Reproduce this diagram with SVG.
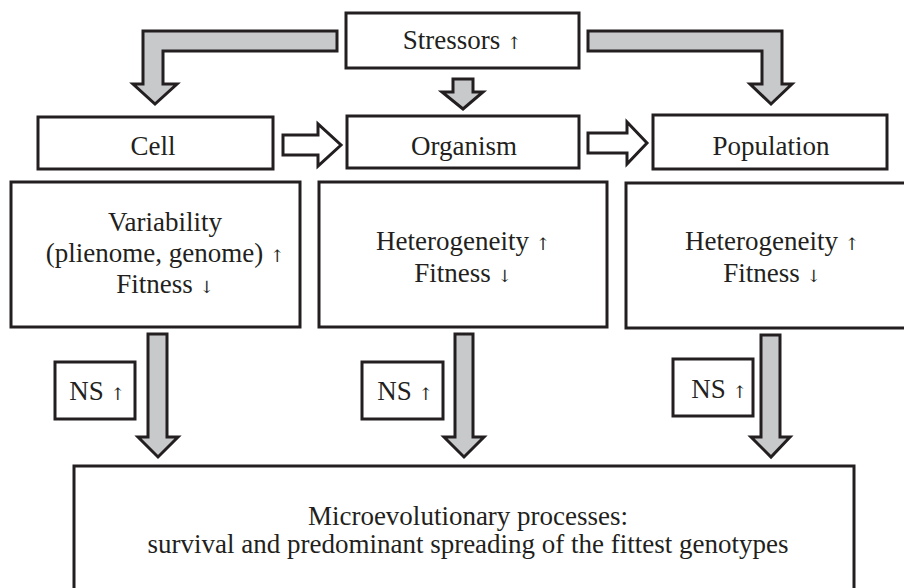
<svg xmlns="http://www.w3.org/2000/svg" width="904" height="588" viewBox="0 0 904 588">
<style>
.box{fill:#ffffff;stroke:#231f20;stroke-width:3}
.ga{fill:#c8c9cb;stroke:#231f20;stroke-width:3;stroke-linejoin:miter}
.ha{fill:#ffffff;stroke:#231f20;stroke-width:3;stroke-linejoin:miter}
text{font-family:"Liberation Serif","Times New Roman",serif;font-size:27px;fill:#231f20;text-anchor:middle}
.ar{font-family:"DejaVu Serif","DejaVu Sans",serif;font-size:17px;fill:#231f20}
</style>
<rect x="0" y="0" width="904" height="588" fill="#ffffff"/>
<g id="connectors">
<path class="ga" d="M337 31 L143 31 L143 84 L133 84 L155 104 L177 84 L163 84 L163 51 L337 51 Z"/>
<path class="ga" d="M588 31 L782 31 L782 84 L792 84 L771 104 L750 84 L762 84 L762 51 L588 51 Z"/>
<path class="ga" d="M453 79 L473 79 L473 92 L483 92 L463 109 L442 92 L453 92 Z"/>
<path class="ha" d="M283 135 L318 135 L318 124 L341 145 L318 166 L318 155 L283 155 Z"/>
<path class="ha" d="M588 133 L627 133 L627 122 L647 143 L627 164 L627 153 L588 153 Z"/>
<path class="ga" d="M148 334 L167 334 L167 437 L178 437 L158 457 L138 437 L148 437 Z"/>
<path class="ga" d="M455 334 L473 334 L473 437 L484 437 L464 457 L444 437 L455 437 Z"/>
<path class="ga" d="M761 335 L780 335 L780 437 L790 437 L771 457 L751 437 L761 437 Z"/>
</g>
<g id="stressors">
<rect class="box" x="346" y="13" width="233" height="55"/>
<text x="462" y="49">Stressors <tspan class="ar">↑</tspan></text>
</g>
<g id="cell">
<rect class="box" x="38" y="117" width="235" height="52"/>
<text x="153" y="155">Cell</text>
</g>
<g id="organism">
<rect class="box" x="347" y="116" width="232" height="52"/>
<text x="464" y="155">Organism</text>
</g>
<g id="population">
<rect class="box" x="653" y="115" width="234" height="54"/>
<text x="771" y="155">Population</text>
</g>
<g id="cell-state">
<rect class="box" x="11" y="182" width="289" height="145"/>
<text x="165" y="231">Variability</text>
<text x="165" y="262">(plienome, genome) <tspan class="ar">↑</tspan></text>
<text x="165" y="293">Fitness <tspan class="ar">↓</tspan></text>
</g>
<g id="organism-state">
<rect class="box" x="319" y="182" width="288" height="145"/>
<text x="463" y="250">Heterogeneity <tspan class="ar">↑</tspan></text>
<text x="463" y="282">Fitness <tspan class="ar">↓</tspan></text>
</g>
<g id="population-state">
<rect class="box" x="626" y="183" width="290" height="145"/>
<text x="772" y="250">Heterogeneity <tspan class="ar">↑</tspan></text>
<text x="772" y="282">Fitness <tspan class="ar">↓</tspan></text>
</g>
<g id="ns1">
<rect class="box" x="55" y="362" width="80" height="57"/>
<text x="97" y="400">NS <tspan class="ar">↑</tspan></text>
</g>
<g id="ns2">
<rect class="box" x="362" y="362" width="81" height="57"/>
<text x="405" y="400">NS <tspan class="ar">↑</tspan></text>
</g>
<g id="ns3">
<rect class="box" x="673" y="359" width="80" height="57"/>
<text x="719" y="398">NS <tspan class="ar">↑</tspan></text>
</g>
<g id="microevolution">
<rect class="box" x="74" y="466" width="780" height="140"/>
<text x="468" y="525">Microevolutionary processes:</text>
<text x="468" y="553">survival and predominant spreading of the fittest genotypes</text>
</g>
</svg>
